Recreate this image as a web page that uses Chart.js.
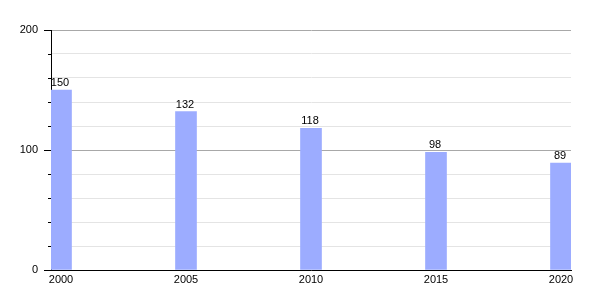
<!DOCTYPE html>
<html>
<head>
<meta charset="utf-8">
<script src="https://cdn.jsdelivr.net/npm/chart.js@4/dist/chart.umd.min.js"></script>
<style>
  html, body { margin: 0; padding: 0; background: #fff; }
  #wrap { width: 600px; height: 300px; }
</style>
</head>
<body>
<div id="wrap"><canvas id="c" width="600" height="300"></canvas></div>
<script>
const years = [2000, 2005, 2010, 2015, 2020];
const values = [150, 132, 118, 98, 89];
const yTickLabels = [0, 100, 200];

const FONT = '"Liberation Sans", Arial, sans-serif';

const minorTicks = {
  id: 'minorTicks',
  afterDraw(chart) {
    const y = chart.scales.y;
    const ctx = chart.ctx;
    const left = chart.chartArea.left;
    ctx.save();
    ctx.strokeStyle = '#000';
    ctx.lineWidth = 1;
    y.ticks.forEach(t => {
      if (t.value % 100 !== 0) {
        const py = Math.round(y.getPixelForValue(t.value)) + 0.5;
        ctx.beginPath();
        ctx.moveTo(left - 3, py);
        ctx.lineTo(left, py);
        ctx.stroke();
      }
    });
    ctx.restore();
  }
};

const valueLabels = {
  id: 'valueLabels',
  afterDatasetsDraw(chart) {
    const ctx = chart.ctx;
    const meta = chart.getDatasetMeta(0);
    ctx.save();
    ctx.font = '11px ' + FONT;
    ctx.fillStyle = '#000';
    ctx.textAlign = 'center';
    ctx.textBaseline = 'alphabetic';
    meta.data.forEach((bar, i) => {
      ctx.fillText(String(values[i]), bar.x - 1, bar.y - 4);
    });
    ctx.restore();
  }
};

new Chart(document.getElementById('c'), {
  type: 'bar',
  data: {
    datasets: [{
      data: years.map((yr, i) => ({ x: yr, y: values[i] })),
      backgroundColor: '#9cacff',
      borderWidth: 0,
      barThickness: 21
    }]
  },
  options: {
    responsive: false,
    animation: false,
    devicePixelRatio: 1,
    layout: { padding: { left: 0, right: 29, top: 30, bottom: 0 } },
    plugins: { legend: { display: false }, tooltip: { enabled: false } },
    scales: {
      x: {
        type: 'linear',
        offset: false,
        min: 1999.6,
        max: 2020.4,
        afterBuildTicks(scale) { scale.ticks = years.map(v => ({ value: v })); },
        afterFit(scale) { scale.height = 30; },
        grid: { display: true, offset: false, drawOnChartArea: false, drawTicks: false },
        border: { display: true, color: '#000', width: 1 },
        ticks: {
          padding: 3,
          color: '#000',
          font: { family: FONT, size: 11 },
          maxRotation: 0,
          autoSkip: false,
          callback: v => String(v)
        }
      },
      y: {
        min: 0,
        max: 200,
        afterFit(scale) { scale.width = 51; },
        grid: {
          color: c => (c.tick && c.tick.value % 100 === 0) ? '#a8a8a8' : '#e4e4e4',
          tickColor: c => (c.tick && c.tick.value % 100 === 0) ? '#000' : 'rgba(0,0,0,0)',
          tickLength: 7
        },
        border: { display: true, color: '#000', width: 1 },
        ticks: {
          stepSize: 20,
          padding: 6,
          color: '#000',
          font: { family: FONT, size: 11 },
          callback: v => yTickLabels.includes(v) ? String(v) : ''
        }
      }
    }
  },
  plugins: [minorTicks, valueLabels]
});
</script>
</body>
</html>
